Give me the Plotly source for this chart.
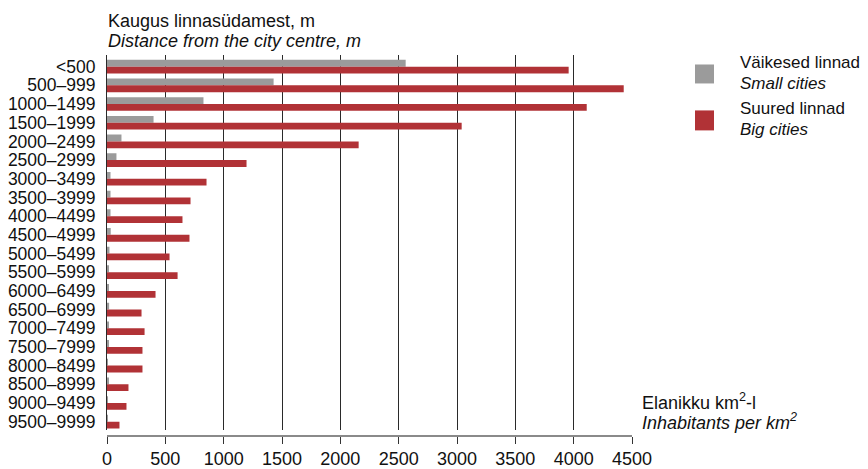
import plotly.graph_objects as go

categories = ["<500", "500–999", "1000–1499", "1500–1999", "2000–2499", "2500–2999",
              "3000–3499", "3500–3999", "4000–4499", "4500–4999", "5000–5499",
              "5500–5999", "6000–6499", "6500–6999", "7000–7499", "7500–7999",
              "8000–8499", "8500–8999", "9000–9499", "9500–9999"]
small_cities = [2560, 1428, 827, 399, 124, 81, 30, 30, 30, 32, 21, 13, 10, 18, 15, 10, 8, 12, 8, 5]
big_cities = [3957, 4429, 4112, 3040, 2157, 1196, 853, 716, 647, 707, 536, 605, 416, 296, 322,
              304, 304, 184, 167, 107]
x_ticks = [0, 500, 1000, 1500, 2000, 2500, 3000, 3500, 4000, 4500]

GREY = "#9b9b9b"
RED = "#b13236"
FONT = "Liberation Sans, Arial, sans-serif"
FS = 18

# page body has an 8px margin: shift the layout up/left by that amount
OFF = 8
W, H = 868, 469
L = 107 - OFF
R = W - (632 - OFF)
T = 54.5 - OFF
B = H - (436 - OFF)
PW = W - L - R
PH = H - T - B


def px(x):
    return (x - OFF - L) / PW


def py(y):
    return (H - B - (y - OFF)) / PH


fig = go.Figure()
fig.add_trace(go.Bar(y=categories, x=small_cities, orientation="h", name="Väikesed linnad",
                     marker=dict(color=GREY, line=dict(width=0))))
fig.add_trace(go.Bar(y=categories, x=big_cities, orientation="h", name="Suured linnad",
                     marker=dict(color=RED, line=dict(width=0))))
# invisible trace to carry the bottom tick axis
fig.add_trace(go.Scatter(x=[0, 4500], y=[categories[0], categories[0]], xaxis="x2",
                         mode="markers", marker=dict(opacity=0), hoverinfo="skip",
                         showlegend=False))

annotations = []


def txt(text, x, y, italic=False, size=FS):
    annotations.append(dict(text=f"<i>{text}</i>" if italic else text, x=px(x), y=py(y),
                            xref="paper", yref="paper", xanchor="left", yanchor="middle",
                            showarrow=False, font=dict(family=FONT, size=size, color="#111")))


txt("Kaugus linnasüdamest, m", 106, 20)
txt("Distance from the city centre, m", 106, 40, italic=True)
txt("Väikesed linnad", 738, 62, size=17)
txt("Small cities", 738, 83, italic=True, size=17)
txt("Suured linnad", 738, 108, size=17)
txt("Big cities", 738, 129, italic=True, size=17)
txt("Elanikku km<sup>2</sup>-l", 640, 401)
txt("Inhabitants per km<sup>2</sup>", 640, 421, italic=True)

shapes = [
    dict(type="rect", xref="paper", yref="paper", x0=px(695), x1=px(714), y0=py(83), y1=py(64),
         fillcolor=GREY, line=dict(width=0)),
    dict(type="rect", xref="paper", yref="paper", x0=px(695), x1=px(714), y0=py(130), y1=py(110),
         fillcolor=RED, line=dict(width=0)),
]

ydom0 = (436 - 429.5) / PH

fig.update_layout(
    width=W, height=H,
    margin=dict(l=L, r=R, t=T, b=B, pad=0, autoexpand=False),
    paper_bgcolor="white", plot_bgcolor="white",
    barmode="group", bargap=0.27, bargroupgap=0,
    showlegend=False,
    font=dict(family=FONT, size=FS, color="#111"),
    annotations=annotations,
    shapes=shapes,
    xaxis=dict(range=[0, 4500], tickvals=x_ticks, anchor="y", automargin=False,
               showgrid=True, gridcolor="#2a2a2a", gridwidth=1,
               showline=False, ticks="", showticklabels=False, zeroline=False),
    xaxis2=dict(range=[0, 4500], tickvals=x_ticks, ticktext=[str(v) for v in x_ticks],
                overlaying="x", anchor="free", position=0, automargin=False,
                showgrid=False, zeroline=False,
                showline=True, linecolor="#8a8a8a", linewidth=1.5,
                ticks="outside", ticklen=7, tickcolor="#333", tickwidth=1,
                tickfont=dict(family=FONT, size=FS, color="#111")),
    yaxis=dict(categoryorder="array", categoryarray=categories,
               tickmode="array", tickvals=categories, ticktext=categories,
               range=[19.42, -0.625], domain=[ydom0, 1], automargin=False,
               showgrid=False, zeroline=False,
               showline=True, linecolor="#2a2a2a", linewidth=1,
               ticks="", ticklabelstandoff=7,
               tickfont=dict(family=FONT, size=17.5, color="#111")),
)

fig.write_html("out.html")
